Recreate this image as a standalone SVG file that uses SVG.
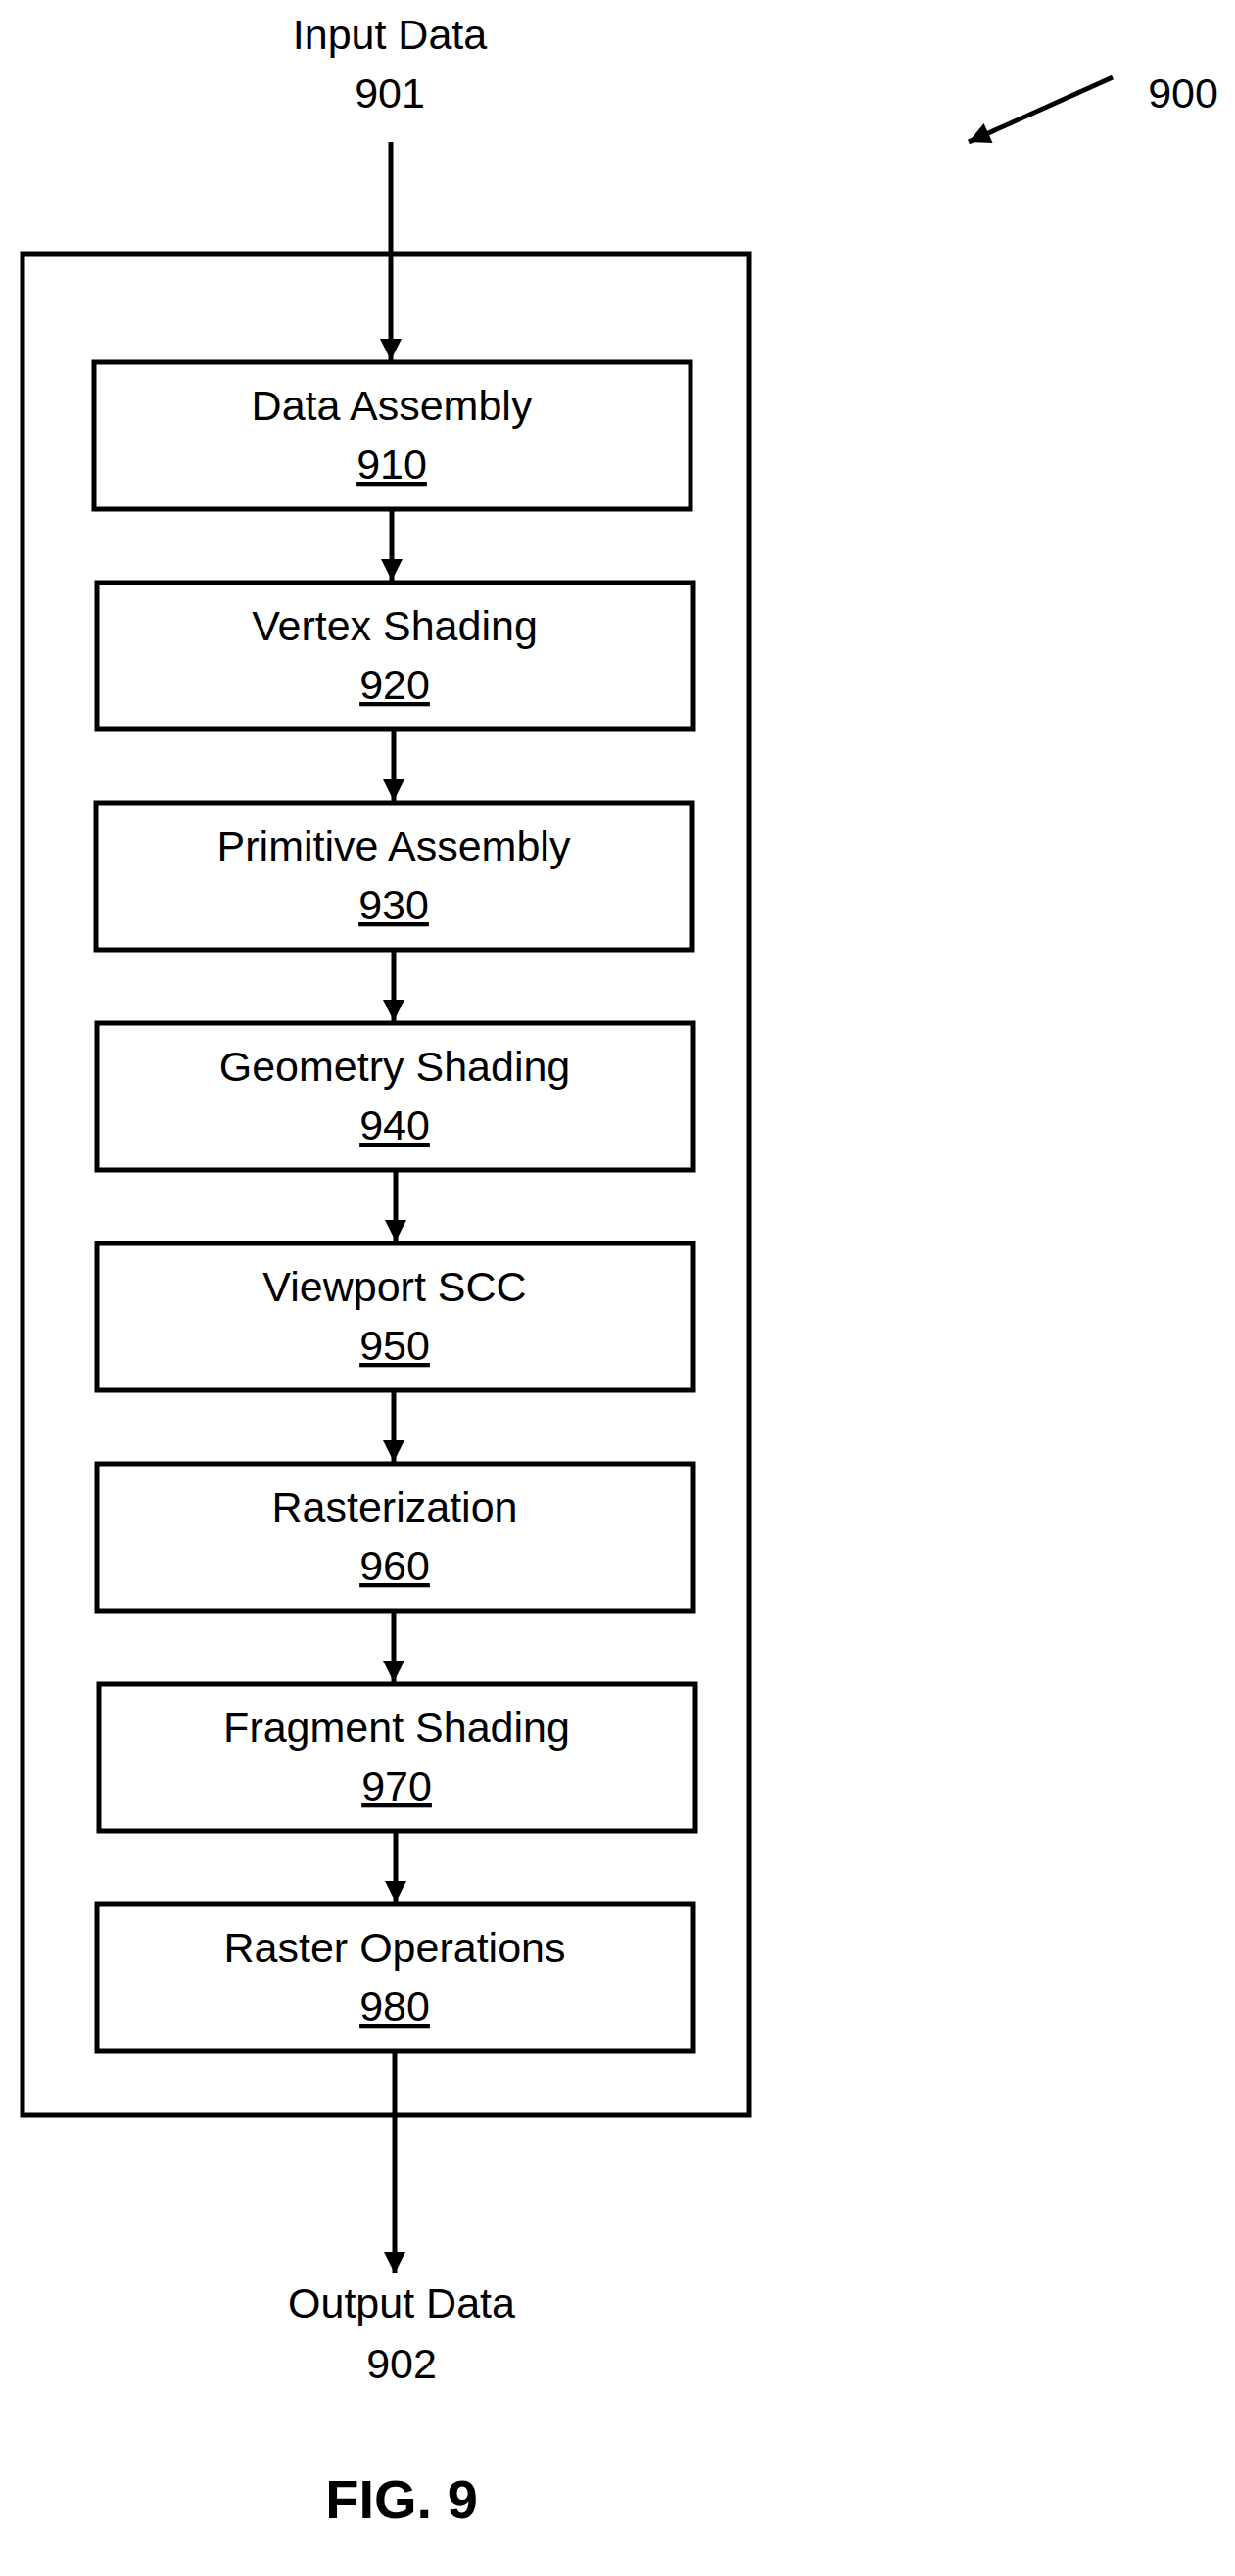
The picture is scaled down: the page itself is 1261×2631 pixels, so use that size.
<svg xmlns="http://www.w3.org/2000/svg" width="1261" height="2631" viewBox="0 0 1261 2631">
<style>
text{font-family:"Liberation Sans",Arial,sans-serif;font-size:43px;fill:#000;text-anchor:middle}
.n{text-decoration:underline}
.box{fill:#fff;stroke:#000;stroke-width:5}
.c{stroke:#000;stroke-width:5;fill:none;marker-end:url(#ah)}
</style>
<defs><marker id="ah" viewBox="0 0 10 10" refX="10" refY="5" markerWidth="5.5" markerHeight="4.4" markerUnits="strokeWidth" orient="auto"><path d="M0,0L10,5L0,10z" fill="#000"/></marker></defs>
<rect x="23" y="259" width="742" height="1901" fill="none" stroke="#000" stroke-width="5"/>
<text x="398" y="50">Input Data</text>
<text x="398" y="110">901</text>
<text x="1208" y="110">900</text>
<text x="410" y="2367">Output Data</text>
<text x="410" y="2429">902</text>
<text x="410" y="2572" style="font-weight:bold;font-size:56px">FIG. 9</text>
<g id="connectors">
<line class="c" x1="399" y1="145" x2="399" y2="368"/>
<line class="c" x1="1136" y1="79" x2="989" y2="145"/>
<line class="c" x1="400" y1="520" x2="400" y2="593"/>
<line class="c" x1="402" y1="745" x2="402" y2="818"/>
<line class="c" x1="402" y1="970" x2="402" y2="1043"/>
<line class="c" x1="404" y1="1195" x2="404" y2="1268"/>
<line class="c" x1="402" y1="1420" x2="402" y2="1493"/>
<line class="c" x1="402" y1="1645" x2="402" y2="1718"/>
<line class="c" x1="404" y1="1870" x2="404" y2="1943"/>
<line class="c" x1="403" y1="2095" x2="403" y2="2322"/>
</g>
<g id="n910"><rect class="box" x="96" y="370" width="609" height="150"/><text x="400" y="429">Data Assembly</text><text class="n" x="400" y="489">910</text></g>
<g id="n920"><rect class="box" x="99" y="595" width="609" height="150"/><text x="403" y="654">Vertex Shading</text><text class="n" x="403" y="714">920</text></g>
<g id="n930"><rect class="box" x="98" y="820" width="609" height="150"/><text x="402" y="879">Primitive Assembly</text><text class="n" x="402" y="939">930</text></g>
<g id="n940"><rect class="box" x="99" y="1045" width="609" height="150"/><text x="403" y="1104">Geometry Shading</text><text class="n" x="403" y="1164">940</text></g>
<g id="n950"><rect class="box" x="99" y="1270" width="609" height="150"/><text x="403" y="1329">Viewport SCC</text><text class="n" x="403" y="1389">950</text></g>
<g id="n960"><rect class="box" x="99" y="1495" width="609" height="150"/><text x="403" y="1554">Rasterization</text><text class="n" x="403" y="1614">960</text></g>
<g id="n970"><rect class="box" x="101" y="1720" width="609" height="150"/><text x="405" y="1779">Fragment Shading</text><text class="n" x="405" y="1839">970</text></g>
<g id="n980"><rect class="box" x="99" y="1945" width="609" height="150"/><text x="403" y="2004">Raster Operations</text><text class="n" x="403" y="2064">980</text></g>
</svg>
